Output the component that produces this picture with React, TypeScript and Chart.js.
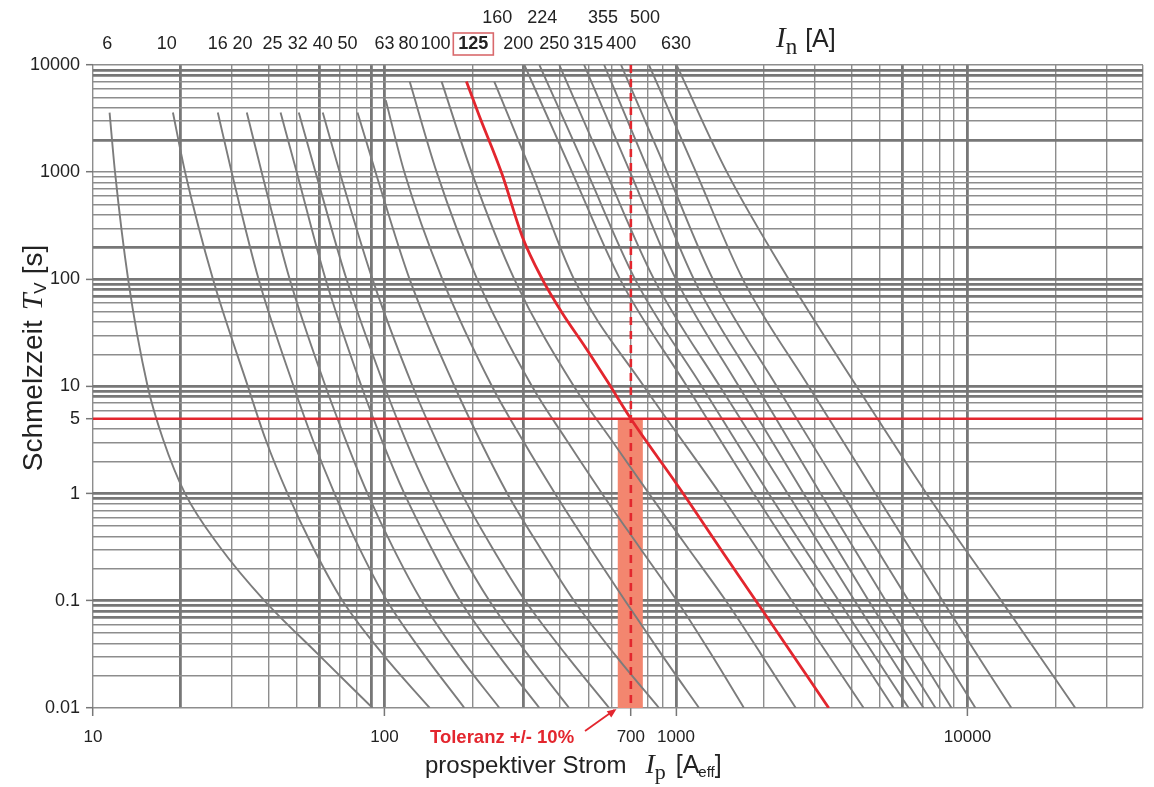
import React, { useEffect, useRef } from 'react';
import { Chart, registerables } from 'chart.js';

Chart.register(...registerables);

// ---------- axis ranges & tick labels ----------
const X_MIN = 10;
const X_MAX = 40000;
const Y_MIN = 0.01;
const Y_MAX = 10000;
const X_TICK_LABELS = [10, 100, 700, 1000, 10000];
const Y_TICK_LABELS = [0.01, 0.1, 1, 5, 10, 100, 1000, 10000];
const X_HEAVY = [20, 60, 90, 100, 300, 1000, 6000, 10000];
const Y_HEAVY = [9000, 8000, 2000, 200, 100, 90, 80, 70, 10, 9, 8, 1, 0.9, 0.1, 0.09, 0.08, 0.07];

// ---------- top labels (rated current In) ----------
const IN_ROW1_LABELS = ['6', '10', '16', '20', '25', '32', '40', '50', '63', '80', '100', '125', '200', '250', '315', '400', '630'];
const IN_ROW1_AT = [11.2, 17.9, 26.8, 32.6, 41.3, 50.4, 61.4, 74.7, 100, 120.8, 149.5, 201.7, 287.7, 382.1, 499.6, 648.3, 1000];
const IN_ROW2_LABELS = ['160', '224', '355', '500'];
const IN_ROW2_AT = [243.8, 347.6, 562.3, 783];
const IN_HIGHLIGHT = '125';

// ---------- melting curves [prospective current A, melting time s] ----------
const C6 = [[11.4, 3600], [11.9, 1000], [13.2, 100], [15.4, 10], [17.4, 3.2], [20.7, 1], [27.2, 0.32], [38.8, 0.1], [59, 0.032], [91, 0.01]];
const C10 = [[18.8, 3600], [20.7, 1000], [25.8, 100], [34, 10], [39.1, 3.2], [46.5, 1], [56.7, 0.32], [71.8, 0.1], [98.4, 0.032], [143, 0.01]];
const C16 = [[26.8, 3600], [29.9, 1000], [37, 100], [48.8, 10], [56.7, 3.2], [67.4, 1], [81.5, 0.32], [102, 0.1], [136, 0.032], [188, 0.01]];
const C20 = [[33.7, 3600], [37.9, 1000], [47.3, 100], [62.8, 10], [73.5, 3.2], [87.5, 1], [106.5, 0.32], [134, 0.1], [178, 0.032], [248, 0.01]];
const C25 = [[44, 3600], [50, 1000], [62.8, 100], [83.4, 10], [97.7, 3.2], [117, 1], [144, 0.32], [182, 0.1], [244, 0.032], [340, 0.01]];
const C32 = [[50.8, 3600], [58, 1000], [74.1, 100], [100, 10], [118, 3.2], [143, 1], [178, 0.32], [229, 0.1], [309, 0.032], [430, 0.01]];
const C40 = [[61.4, 3600], [70.2, 1000], [91, 100], [125, 10], [150, 3.2], [184, 1], [233, 0.32], [304, 0.1], [417, 0.032], [590, 0.01]];
const C50 = [[80.8, 3600], [93.2, 1000], [122, 100], [174, 10], [212, 3.2], [264, 1], [340, 0.32], [447, 0.1], [614, 0.032], [875, 0.01]];
const C63 = [[101, 4700], [117, 1000], [158, 100], [234, 10], [297, 3.2], [385, 1], [504, 0.32], [669, 0.1], [889, 0.032], [1200, 0.01]];
const C80 = [[122, 7000], [151, 1000], [208, 100], [321, 10], [420, 3.2], [558, 1], [747, 0.32], [1008, 0.1], [1318, 0.032], [1710, 0.01]];
const C100 = [[157, 7000], [199, 1000], [279, 100], [447, 10], [599, 3.2], [808, 1], [1091, 0.32], [1483, 0.1], [1955, 0.032], [2576, 0.01]];
const C125 = [[191, 7000], [211, 3400], [253, 960], [297, 250], [348, 100], [407, 48.6], [488, 23.4], [580, 11.3], [700, 5], [1016, 1.18], [1460, 0.274], [2049, 0.071], [3342, 0.01]];
const C160 = [[238, 7000], [319, 1000], [447, 100], [777, 10], [1415, 1], [2497, 0.1], [4404, 0.01]];
const C200 = [[302, 10000], [440, 1000], [643, 100], [1091, 10], [1849, 1], [3213, 0.1], [5579, 0.01]];
const C224 = [[340, 10000], [496, 1000], [724, 100], [1227, 10], [2082, 1], [3615, 0.1], [6281, 0.01]];
const C250 = [[398, 10000], [576, 1000], [841, 100], [1415, 10], [2419, 1], [4102, 0.1], [7069, 0.01]];
const C315 = [[484, 10000], [696, 1000], [1000, 100], [1644, 10], [2744, 1], [4581, 0.1], [7770, 0.01]];
const C355 = [[567, 10000], [808, 1000], [1152, 100], [1894, 10], [3138, 1], [5240, 0.1], [8816, 0.01]];
const C400 = [[648, 10000], [932, 1000], [1339, 100], [2218, 10], [3732, 1], [6281, 0.1], [10650, 0.01]];
const C500 = [[808, 10000], [1171, 1000], [1696, 100], [2854, 10], [4841, 1], [8212, 0.1], [14150, 0.01]];
const C630 = [[1008, 9800], [1495, 1000], [2438, 100], [4168, 10], [7238, 1], [13070, 0.1], [23440, 0.01]];

const GRAY_CURVES = [C6, C10, C16, C20, C25, C32, C40, C50, C63, C80, C100, C160, C200, C224, C250, C315, C355, C400, C500, C630];

// ---------- marked operating point ----------
const MARK_CURRENT = 700;
const MARK_TIME = 5;
const TOLERANCE = [630, 770];
const TOL_TEXT = 'Toleranz +/- 10%';

const SANS = '"Liberation Sans", Arial, Helvetica, sans-serif';
const SERIF = '"Liberation Serif", "Times New Roman", serif';

function logGrid(lo: number, hi: number): number[] {
  const out: number[] = [];
  for (let e = Math.floor(Math.log10(lo)); e <= Math.ceil(Math.log10(hi)); e++) {
    for (let m = 1; m <= 9; m++) {
      const v = Number((m * Math.pow(10, e)).toPrecision(3));
      if (v >= lo * 0.999 && v <= hi * 1.001) out.push(v);
    }
  }
  return out;
}

const near = (a: number, list: number[]) => list.some((b) => Math.abs(a - b) / b < 1e-6);

const toXY = (pts: number[][]) => pts.map(([x, y]) => ({ x, y }));

type Run = { t: string; f: string; dy?: number; gap?: number };

function drawRuns(ctx: CanvasRenderingContext2D, runs: Run[], x: number, y: number, align: 'left' | 'center') {
  let total = 0;
  runs.forEach((r) => {
    ctx.font = r.f;
    total += ctx.measureText(r.t).width + (r.gap || 0);
  });
  let cx = align === 'center' ? x - total / 2 : x;
  ctx.textAlign = 'left';
  ctx.textBaseline = 'alphabetic';
  runs.forEach((r) => {
    ctx.font = r.f;
    cx += r.gap || 0;
    ctx.fillText(r.t, cx, y + (r.dy || 0));
    cx += ctx.measureText(r.t).width;
  });
}

const annotPlugin = {
  id: 'annot',
  afterDraw(chart: any) {
    const { ctx } = chart;
    const xs = chart.scales.x;
    const ys = chart.scales.y;
    ctx.save();
    ctx.fillStyle = '#222';
    ctx.textAlign = 'center';
    ctx.textBaseline = 'middle';
    // top In labels
    IN_ROW1_LABELS.forEach((l, i) => {
      const px = xs.getPixelForValue(IN_ROW1_AT[i]);
      if (l === IN_HIGHLIGHT) {
        ctx.font = 'bold 18px ' + SANS;
        const w = ctx.measureText(l).width;
        ctx.strokeStyle = '#d9696c';
        ctx.lineWidth = 1.6;
        ctx.strokeRect(px - w / 2 - 5, 33, w + 10, 22);
        ctx.fillStyle = '#222';
        ctx.fillText(l, px, 44);
      } else {
        ctx.font = '18px ' + SANS;
        ctx.fillText(l, px, 44);
      }
    });
    ctx.font = '18px ' + SANS;
    IN_ROW2_LABELS.forEach((l, i) => {
      ctx.fillText(l, xs.getPixelForValue(IN_ROW2_AT[i]), 18);
    });
    // In [A]
    drawRuns(ctx, [
      { t: 'I', f: 'italic 29px ' + SERIF },
      { t: 'n', f: '23px ' + SERIF, dy: 7 },
      { t: '[A]', f: '25px ' + SANS, gap: 8 },
    ], 776, 47, 'left');
    // x title
    drawRuns(ctx, [
      { t: 'prospektiver Strom', f: '24px ' + SANS },
      { t: 'I', f: 'italic 28px ' + SERIF, gap: 19 },
      { t: 'p', f: '22px ' + SERIF, dy: 6 },
      { t: '[A', f: '25px ' + SANS, gap: 10 },
      { t: 'eff', f: '15px ' + SANS, dy: 4, gap: -1 },
      { t: ']', f: '25px ' + SANS },
    ], 425, 773, 'left');
    // y title
    ctx.save();
    ctx.translate(42, 358);
    ctx.rotate(-Math.PI / 2);
    drawRuns(ctx, [
      { t: 'Schmelzzeit', f: '28px ' + SANS },
      { t: 'T', f: 'italic 30px ' + SERIF, gap: 10 },
      { t: 'V', f: '17px ' + SANS, dy: 4 },
      { t: '[s]', f: '28px ' + SANS, gap: 8 },
    ], 0, 0, 'center');
    ctx.restore();
    // tolerance text + arrow
    ctx.fillStyle = '#e3262e';
    ctx.font = 'bold 18.5px ' + SANS;
    ctx.textAlign = 'left';
    ctx.textBaseline = 'middle';
    ctx.fillText(TOL_TEXT, 430, 738);
    const ax = xs.getPixelForValue(TOLERANCE[0]);
    const ay = ys.getPixelForValue(Y_MIN);
    const sx = 585, sy = 731;
    ctx.strokeStyle = '#e3262e';
    ctx.lineWidth = 1.8;
    ctx.beginPath();
    ctx.moveTo(sx, sy);
    ctx.lineTo(ax - 3, ay + 2);
    ctx.stroke();
    const ang = Math.atan2(ay + 2 - sy, ax - 3 - sx);
    ctx.beginPath();
    ctx.moveTo(ax - 1, ay + 1);
    ctx.lineTo(ax - 1 - 10 * Math.cos(ang - 0.4), ay + 1 - 10 * Math.sin(ang - 0.4));
    ctx.lineTo(ax - 1 - 10 * Math.cos(ang + 0.4), ay + 1 - 10 * Math.sin(ang + 0.4));
    ctx.closePath();
    ctx.fill();
    ctx.restore();
  },
};

export default function App() {
  const ref = useRef<HTMLCanvasElement | null>(null);
  useEffect(() => {
    if (!ref.current) return;
    const xGrid = logGrid(X_MIN, X_MAX);
    const yGrid = logGrid(Y_MIN, Y_MAX);
    const datasets: any[] = [];
    datasets.push({
      data: [{ x: TOLERANCE[0], y: MARK_TIME }, { x: TOLERANCE[1], y: MARK_TIME }],
      borderWidth: 0,
      borderColor: 'rgba(0,0,0,0)',
      backgroundColor: '#f3866f',
      fill: 'start',
      pointRadius: 0,
      showLine: true,
      order: 5,
    });
    GRAY_CURVES.forEach((c) => {
      datasets.push({
        data: toXY(c),
        borderColor: '#7c7c7c',
        borderWidth: 1.9,
        pointRadius: 0,
        showLine: true,
        fill: false,
        cubicInterpolationMode: 'monotone',
        order: 4,
      });
    });
    datasets.push({
      data: [{ x: X_MIN, y: MARK_TIME }, { x: X_MAX, y: MARK_TIME }],
      borderColor: '#e3262e',
      borderWidth: 2.6,
      pointRadius: 0,
      showLine: true,
      fill: false,
      order: 2,
    });
    datasets.push({
      data: [{ x: MARK_CURRENT, y: Y_MAX }, { x: MARK_CURRENT, y: Y_MIN }],
      borderColor: '#e3262e',
      borderWidth: 2.6,
      borderDash: [8, 6],
      pointRadius: 0,
      showLine: true,
      fill: false,
      order: 2,
    });
    datasets.push({
      data: toXY(C125),
      borderColor: '#e3262e',
      borderWidth: 2.8,
      pointRadius: 0,
      showLine: true,
      fill: false,
      cubicInterpolationMode: 'monotone',
      order: 1,
    });

    const gridColor = (list: number[]) => (c: any) => (c.tick && near(c.tick.value, list) ? '#777777' : '#8d8d8d');
    const gridWidth = (list: number[]) => (c: any) => (c.tick && near(c.tick.value, list) ? 2.8 : 1.4);

    const chart = new Chart(ref.current, {
      type: 'scatter',
      data: { datasets },
      plugins: [annotPlugin],
      options: {
        animation: false,
        responsive: false,
        events: [],
        layout: { padding: { left: 0, top: 65, right: 8, bottom: 0 } },
        plugins: { legend: { display: false }, tooltip: { enabled: false } },
        scales: {
          x: {
            type: 'logarithmic',
            min: X_MIN,
            max: X_MAX,
            border: { display: false },
            afterBuildTicks: (s: any) => {
              s.ticks = xGrid.map((v) => ({ value: v }));
            },
            afterFit: (s: any) => {
              s.height = 79;
            },
            grid: {
              color: gridColor(X_HEAVY),
              lineWidth: gridWidth(X_HEAVY),
              drawTicks: true,
              tickLength: 8,
              tickWidth: 1.5,
              tickColor: (c: any) => (c.tick && near(c.tick.value, X_TICK_LABELS) ? '#777' : 'rgba(0,0,0,0)'),
            },
            ticks: {
              autoSkip: false,
              maxRotation: 0,
              minRotation: 0,
              padding: 11,
              color: '#222',
              font: { family: SANS, size: 17 },
              callback: (v: any) => (near(Number(v), X_TICK_LABELS) ? String(v) : ''),
            },
          },
          y: {
            type: 'logarithmic',
            min: Y_MIN,
            max: Y_MAX,
            border: { display: false },
            afterBuildTicks: (s: any) => {
              s.ticks = yGrid.map((v) => ({ value: v }));
            },
            afterFit: (s: any) => {
              s.width = 93;
            },
            grid: {
              color: gridColor(Y_HEAVY),
              lineWidth: gridWidth(Y_HEAVY),
              drawTicks: true,
              tickLength: 7,
              tickWidth: 1.5,
              tickColor: (c: any) => (c.tick && near(c.tick.value, Y_TICK_LABELS) ? '#777' : 'rgba(0,0,0,0)'),
            },
            ticks: {
              autoSkip: false,
              padding: 6,
              color: '#222',
              font: { family: SANS, size: 18 },
              callback: (v: any) => (near(Number(v), Y_TICK_LABELS) ? String(v) : ''),
            },
          },
        },
      } as any,
    });
    return () => chart.destroy();
  }, []);
  return (
    <div style={{ position: 'absolute', left: 0, top: 0, width: 1154, height: 787, background: '#fff' }}>
      <canvas ref={ref} width={1154} height={787} style={{ display: 'block' }} />
    </div>
  );
}
